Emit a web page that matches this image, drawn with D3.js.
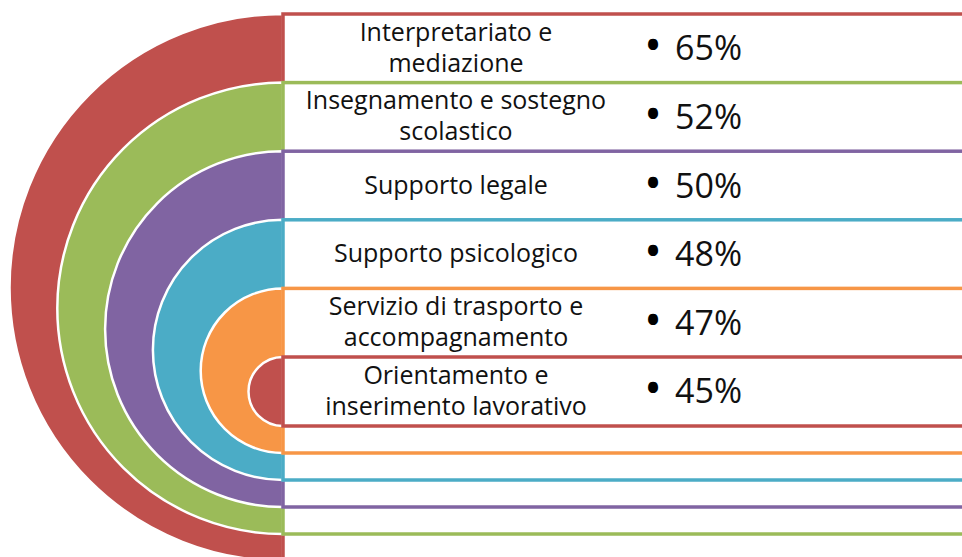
<!DOCTYPE html>
<html>
<head>
<meta charset="utf-8">
<script src="https://cdn.jsdelivr.net/npm/d3@7"></script>
<style>
  html, body { margin: 0; padding: 0; background: #fff; overflow: hidden; }
  svg { display: block; }
</style>
</head>
<body>
<div id="chart"></div>
<script>
// Categories (split into display lines) and percentages
const categories = [
    ["Interpretariato e", "mediazione"],
    ["Insegnamento e sostegno", "scolastico"],
    ["Supporto legale"],
    ["Supporto psicologico"],
    ["Servizio di trasporto e", "accompagnamento"],
    ["Orientamento e", "inserimento lavorativo"]
];
const values = [65, 52, 50, 48, 47, 45];
const colors = ["#C0504D", "#9BBB59", "#8064A2", "#4BACC6", "#F79646", "#C0504D"];

const width = 962, height = 557;
const cx = 283;          // where the half circles meet the boxes
const labelX = 456;
const bulletX = 653;
const pctX = 675;

const svg = d3.select("#chart")
    .append("svg")
    .attr("width", width)
    .attr("height", height);

const idx = d3.range(values.length);

// top edge of every ring / row band
const yTop = d3.scaleBand()
    .domain(idx)
    .range([14, 14 + 68.6 * values.length])
    .padding(0);

// bottom edge of every ring (the nested boxes close lower down)
const yBottom = d3.scaleLinear()
    .domain([0, values.length - 1])
    .range([561, 426]);

idx.forEach(i => {
    const top = yTop(i);
    const bottom = yBottom(i);
    const r = (bottom - top) / 2;

    // left half circle
    svg.append("path")
        .attr("d", `M${cx},${top} A${r},${r} 0 0 0 ${cx},${bottom} Z`)
        .attr("fill", colors[i])
        .attr("stroke", "#fff")
        .attr("stroke-width", 2.5);

    // box on the right
    svg.append("rect")
        .attr("x", cx)
        .attr("y", top)
        .attr("width", width)
        .attr("height", bottom - top)
        .attr("fill", "#fff")
        .attr("stroke", colors[i])
        .attr("stroke-width", 3.5);
});

// texts on top of everything
idx.forEach(i => {
    const mid = yTop(i) + yTop.bandwidth() / 2;
    const lines = categories[i];

    const label = svg.append("text")
        .attr("text-anchor", "middle")
        .attr("font-family", "'Open Sans', sans-serif")
        .attr("font-size", 25)
        .attr("fill", "#111");

    lines.forEach((line, j) => {
        label.append("tspan")
            .attr("x", labelX)
            .attr("y", mid + 8 + (j - (lines.length - 1) / 2) * 31)
            .text(line);
    });

    svg.append("text")
        .attr("x", bulletX)
        .attr("y", mid + 14)
        .attr("text-anchor", "middle")
        .attr("font-family", "'Open Sans', sans-serif")
        .attr("font-size", 48)
        .attr("fill", "#000")
        .text("•");

    svg.append("text")
        .attr("x", pctX)
        .attr("y", mid + 12)
        .attr("font-family", "'Open Sans', sans-serif")
        .attr("font-size", 34)
        .attr("fill", "#111")
        .text(values[i] + "%");
});
</script>
</body>
</html>
